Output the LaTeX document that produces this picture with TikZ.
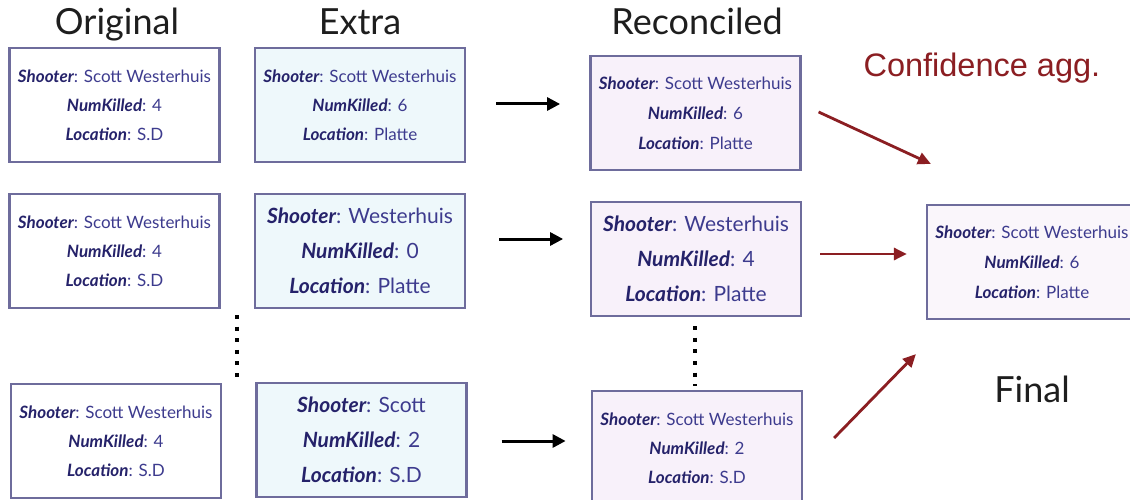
\documentclass[tikz,border=0pt]{standalone}
\usepackage{fontspec}
\setmainfont{Lato}
\newfontfamily\aggfont{Liberation Sans}
\usetikzlibrary{arrows.meta,calc}

\definecolor{boxline}{HTML}{6E6C9C}
\definecolor{labc}{HTML}{25226A}
\definecolor{valc}{HTML}{3D3B8E}
\definecolor{extrafill}{HTML}{EEF8FB}
\definecolor{recfill}{HTML}{F8F1FA}
\definecolor{finalfill}{HTML}{FAF6FB}
\definecolor{aggred}{HTML}{8B1E22}
\definecolor{titlec}{HTML}{1E1E1E}

% one "field: value" line of a record
\newcommand\fld[2]{{\color{labc}\bfseries\itshape #1}{\color{valc}: #2}}

\tikzset{
  rec/.style={draw=boxline, line width=2.2pt, align=center, inner sep=0pt,
              minimum width=210pt, minimum height=114pt},
  smalltext/.style={font=\fontsize{17}{29}\selectfont},
  bigtext/.style={font=\fontsize{21}{35}\selectfont},
  coltitle/.style={font=\fontsize{36}{40}\selectfont, text=titlec, anchor=base},
  flow/.style={line width=3pt, -{Triangle[length=13pt,width=13pt]}},
  agg/.style={draw=aggred, line width=2.8pt, -{Triangle[length=13pt,width=12pt]}},
  dotline/.style={line width=4pt, dash pattern=on 4pt off 7.6pt}
}

\begin{document}
\begin{tikzpicture}[x=1pt,y=-1pt]
\useasboundingbox[fill=white] (0,0) rectangle (1130,500);

% column titles
\node[coltitle] (tOrig) at (117,35) {Original};
\node[coltitle] (tExtra) at (360,35) {Extra};
\node[coltitle] (tRec) at (697,35) {Reconciled};
\node[coltitle] (tFinal) at (1032,402) {Final};
\node[anchor=base west, text=aggred, font=\aggfont\fontsize{32.5}{36}\selectfont] (tAgg) at (860,77) {Confidence agg.};

% original records
\node[rec, smalltext, fill=white] (o1) at (114.5,105) {\fld{Shooter}{Scott Westerhuis}\\ \fld{NumKilled}{4}\\ \fld{Location}{S.D}};
\node[rec, smalltext, fill=white] (o2) at (114.5,251) {\fld{Shooter}{Scott Westerhuis}\\ \fld{NumKilled}{4}\\ \fld{Location}{S.D}};
\node[rec, smalltext, fill=white] (o3) at (116,441) {\fld{Shooter}{Scott Westerhuis}\\ \fld{NumKilled}{4}\\ \fld{Location}{S.D}};

% extra records
\node[rec, smalltext, fill=extrafill] (e1) at (360,105) {\fld{Shooter}{Scott Westerhuis}\\ \fld{NumKilled}{6}\\ \fld{Location}{Platte}};
\node[rec, bigtext, fill=extrafill] (e2) at (360,251) {\fld{Shooter}{Westerhuis}\\ \fld{NumKilled}{0}\\ \fld{Location}{Platte}};
\node[rec, bigtext, fill=extrafill] (e3) at (361.5,440) {\fld{Shooter}{Scott}\\ \fld{NumKilled}{2}\\ \fld{Location}{S.D}};

% reconciled records
\node[rec, smalltext, fill=recfill, font=\fontsize{17}{30}\selectfont] (r1) at (695.5,113) {\fld{Shooter}{Scott Westerhuis}\\ \fld{NumKilled}{6}\\ \fld{Location}{Platte}};
\node[rec, bigtext, fill=recfill] (r2) at (696,259) {\fld{Shooter}{Westerhuis}\\ \fld{NumKilled}{4}\\ \fld{Location}{Platte}};
\node[rec, smalltext, fill=recfill] (r3) at (697,448) {\fld{Shooter}{Scott Westerhuis}\\ \fld{NumKilled}{2}\\ \fld{Location}{S.D}};

% final record
\node[rec, smalltext, fill=finalfill, font=\fontsize{17}{30}\selectfont] (f) at (1032,262) {\fld{Shooter}{Scott Westerhuis}\\ \fld{NumKilled}{6}\\ \fld{Location}{Platte}};

% reconciliation arrows
\draw[flow] ($(e1.east)+(30,-1)$) -- ($(e1.east)+(94,-1)$);
\draw[flow] ($(e2.east)+(33,-12)$) -- ($(e2.east)+(97,-12)$);
\draw[flow] ($(e3.east)+(34,1)$) -- ($(e3.east)+(98,1)$);

% confidence aggregation arrows
\draw[agg] ($(r1.east)+(17,-1)$) -- ($(f.north west)+(5,-40)$);
\draw[agg] ($(r2.east)+(18,-5)$) -- ($(f.west)+(-19,-8)$);
\draw[agg] ($(r3.east)+(31,-10)$) -- ($(f.south west)+(-10,34)$);

% elided rows
\coordinate (d1) at (237,315);
\coordinate (d2) at (237,377);
\draw[dotline] (d1) -- (d2);
\draw[dotline] ($(r2.south)+(-1,9)$) -- ($(r3.north)+(-2,-4)$);
\end{tikzpicture}
\end{document}
